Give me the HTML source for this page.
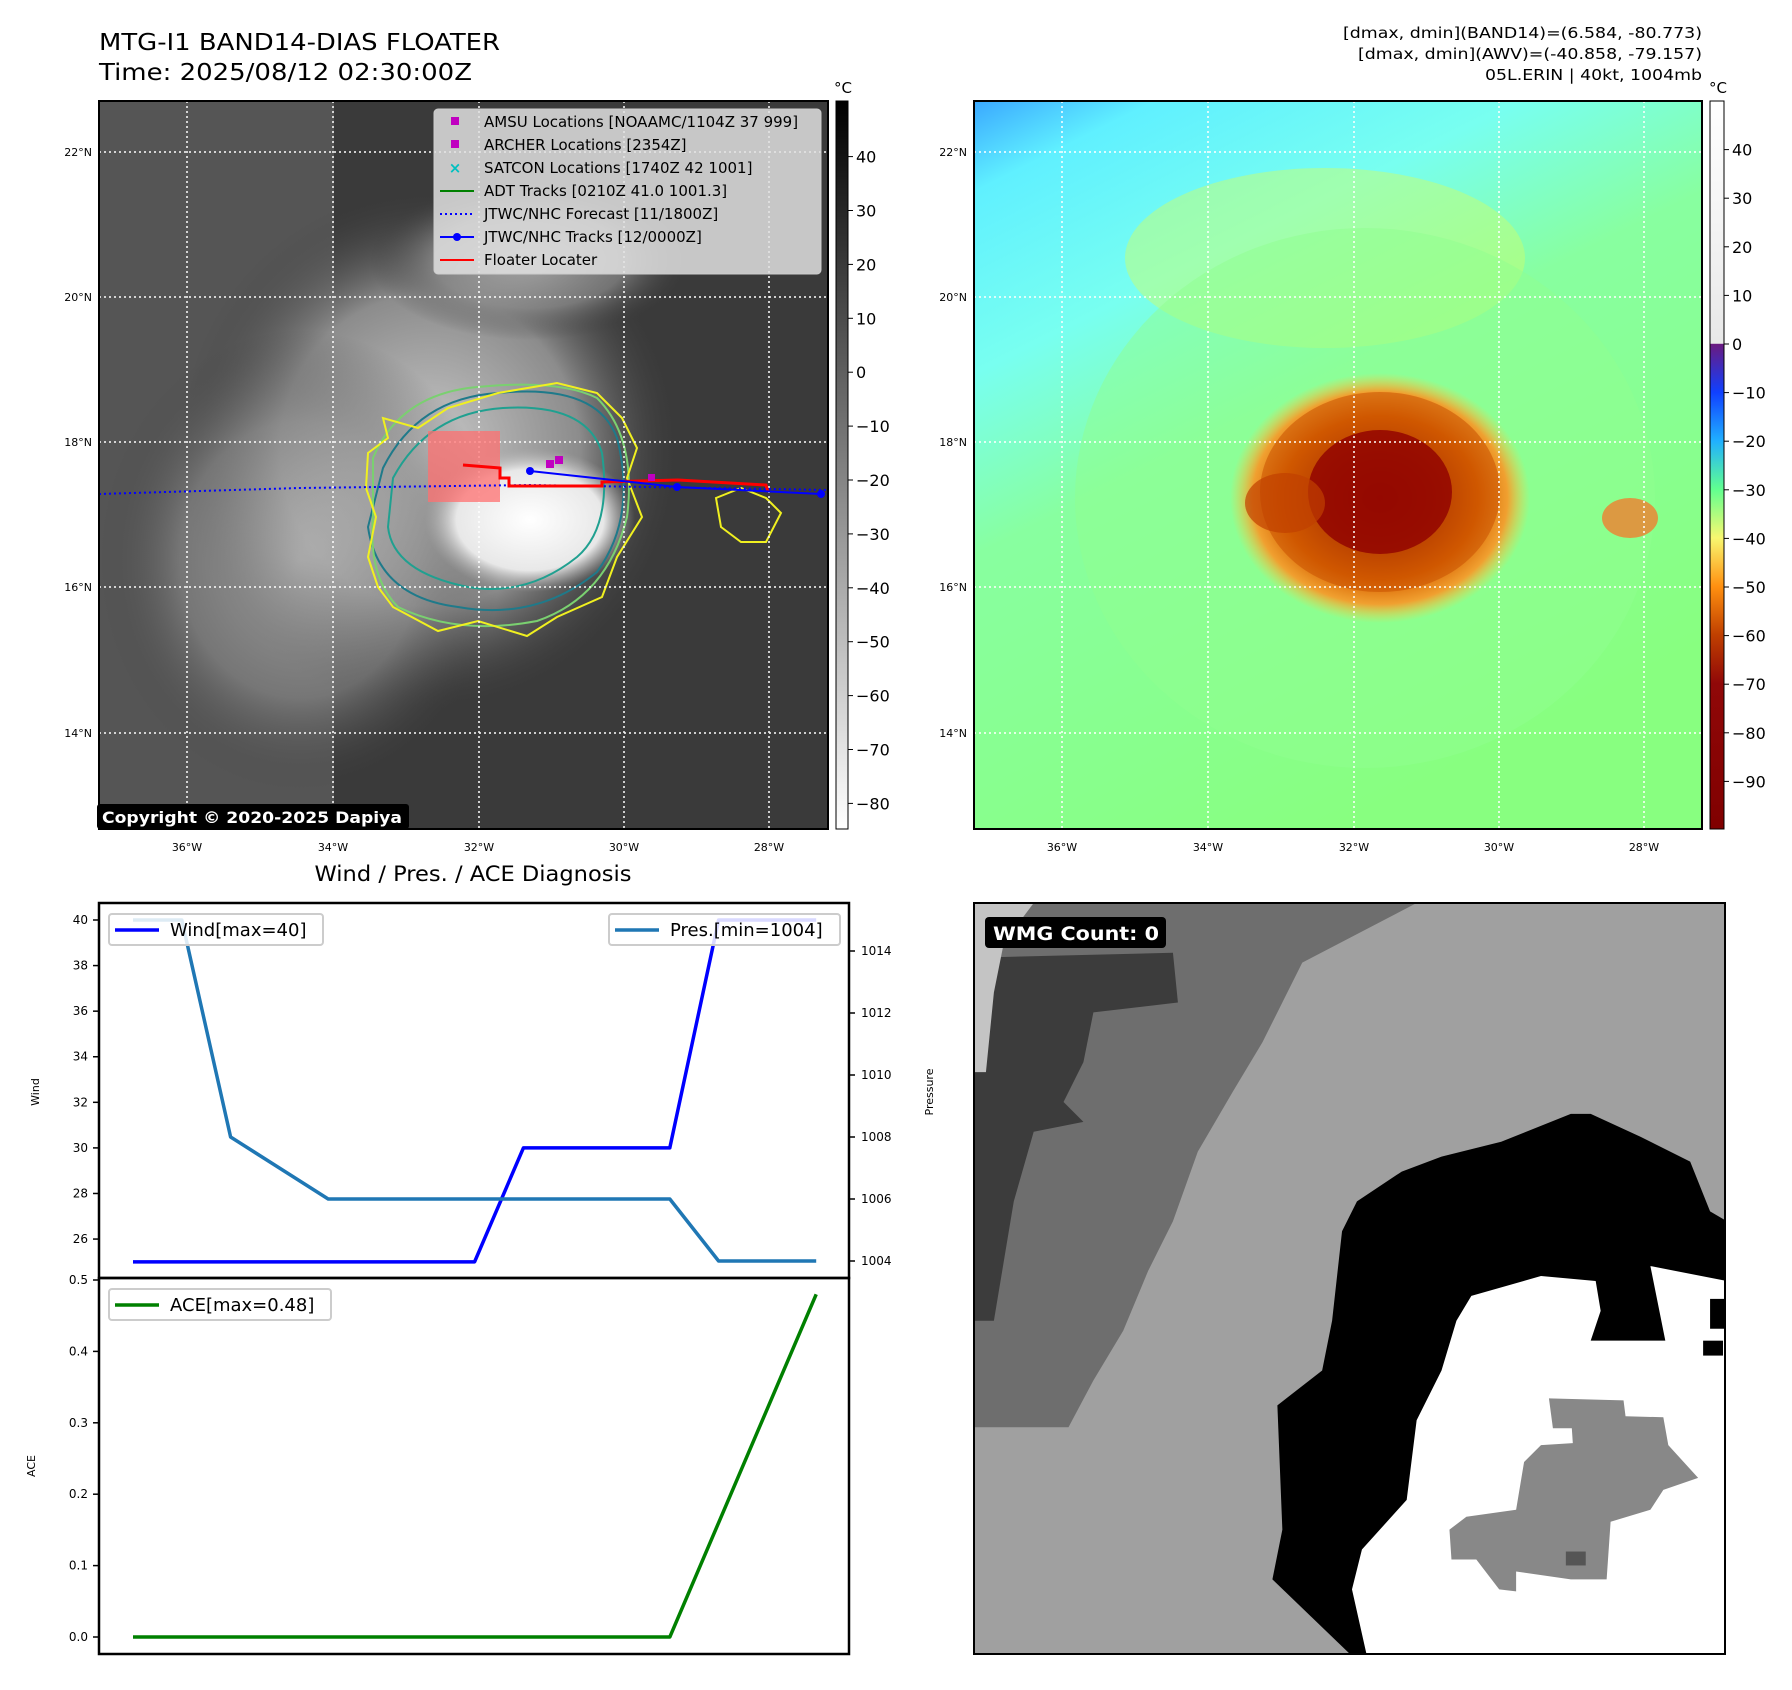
<!DOCTYPE html>
<html><head><meta charset="utf-8"><style>
html,body{margin:0;padding:0;background:#fff;}
body{width:1792px;height:1690px;position:relative;overflow:hidden;font-family:"Liberation Sans","DejaVu Sans",sans-serif;}
svg{position:absolute;left:0;top:0;}
</style></head><body>
<svg id="fig" width="1792" height="1690" viewBox="0 0 1792 1690" xmlns="http://www.w3.org/2000/svg" font-family="DejaVu Sans, Liberation Sans, sans-serif">
<defs>
<radialGradient id="cloud" cx="0.5" cy="0.5" r="0.5"><stop offset="0" stop-color="#c8c8c8"/><stop offset="0.6" stop-color="#8c8c8c"/><stop offset="1" stop-color="#3c3c3c" stop-opacity="0"/></radialGradient>
<radialGradient id="core" cx="0.5" cy="0.5" r="0.5"><stop offset="0" stop-color="#ffffff"/><stop offset="0.7" stop-color="#e8e8e8"/><stop offset="1" stop-color="#b0b0b0" stop-opacity="0"/></radialGradient>
<linearGradient id="bgR" x1="0" y1="0" x2="0.5" y2="1"><stop offset="0" stop-color="#3aa8ff"/><stop offset="0.1" stop-color="#60f0ff"/><stop offset="0.3" stop-color="#78fff0"/><stop offset="0.5" stop-color="#88ffa0"/><stop offset="1" stop-color="#88ff80"/></linearGradient>
<radialGradient id="storm" cx="0.5" cy="0.5" r="0.5"><stop offset="0" stop-color="#800000"/><stop offset="0.35" stop-color="#a02800"/><stop offset="0.65" stop-color="#d86000"/><stop offset="0.85" stop-color="#f0a030"/><stop offset="1" stop-color="#f8d040" stop-opacity="0"/></radialGradient>
<linearGradient id="cb1" x1="0" y1="0" x2="0" y2="1"><stop offset="0" stop-color="#000"/><stop offset="1" stop-color="#fff"/></linearGradient>
<linearGradient id="cb2" x1="0" y1="0" x2="0" y2="1">
<stop offset="0" stop-color="#ffffff"/><stop offset="0.333" stop-color="#e8e8e8"/><stop offset="0.334" stop-color="#6a1a80"/><stop offset="0.4" stop-color="#1040ff"/><stop offset="0.467" stop-color="#20b0ff"/><stop offset="0.533" stop-color="#60ff90"/><stop offset="0.6" stop-color="#f8f870"/><stop offset="0.667" stop-color="#ff9010"/><stop offset="0.733" stop-color="#c04000"/><stop offset="0.8" stop-color="#900808"/><stop offset="1" stop-color="#800000"/></linearGradient>
<clipPath id="clipL"><rect x="99" y="101" width="729" height="728"/></clipPath>
<clipPath id="clipR"><rect x="974" y="101" width="728" height="728"/></clipPath>
<clipPath id="clipW"><rect x="974" y="903" width="751" height="751"/></clipPath>
</defs>

<text x="99" y="50" font-size="23" textLength="401" lengthAdjust="spacingAndGlyphs">MTG-I1 BAND14-DIAS FLOATER</text>
<text x="99" y="80" font-size="23" textLength="373" lengthAdjust="spacingAndGlyphs">Time: 2025/08/12 02:30:00Z</text>
<g font-size="15" text-anchor="end">
<text x="1702" y="38" textLength="359" lengthAdjust="spacingAndGlyphs">[dmax, dmin](BAND14)=(6.584, -80.773)</text>
<text x="1702" y="59" textLength="344" lengthAdjust="spacingAndGlyphs">[dmax, dmin](AWV)=(-40.858, -79.157)</text>
<text x="1702" y="80" textLength="217" lengthAdjust="spacingAndGlyphs">05L.ERIN | 40kt, 1004mb</text>
</g>

<!-- left IR map -->
<g clip-path="url(#clipL)">
<rect x="99" y="101" width="729" height="728" fill="#3a3a3a"/>
<rect x="99" y="101" width="235" height="728" fill="#555"/>
<ellipse cx="430" cy="450" rx="250" ry="260" fill="url(#cloud)"/>
<ellipse cx="300" cy="560" rx="200" ry="230" fill="url(#cloud)" opacity="0.6"/>
<ellipse cx="530" cy="260" rx="160" ry="80" fill="url(#cloud)" opacity="0.7"/>
<ellipse cx="530" cy="520" rx="105" ry="72" fill="url(#core)"/>
<path d="M383,468 Q418,398 498,393 Q597,383 617,438 Q637,517 597,572 Q537,621 458,607 Q378,597 368,527 Z" fill="none" stroke="#1f7a8a" stroke-width="2"/>
<path d="M393,478 Q428,413 503,408 Q587,403 602,453 Q612,527 577,557 Q527,597 468,587 Q393,572 388,527 Z" fill="none" stroke="#20a090" stroke-width="2"/>
<path d="M373,458 Q398,398 468,388 Q557,378 597,398 Q637,438 627,517 Q607,597 537,621 Q458,636 398,607 Q368,577 373,517 Z" fill="none" stroke="#7ad070" stroke-width="2"/>
<path d="M368,453 L388,438 L383,418 L418,428 L448,408 L498,393 L557,383 L597,393 L622,418 L637,448 L627,478 L642,517 L617,557 L602,597 L557,617 L527,636 L478,621 L438,631 L393,607 L378,587 L368,557 L376,517 L366,488 Z" fill="none" stroke="#f0f020" stroke-width="2"/>
<path d="M716,498 L741,488 L766,498 L781,513 L766,542 L741,542 L721,527 Z" fill="none" stroke="#f0f020" stroke-width="2"/>
<g stroke="#fff" stroke-width="1.5" stroke-dasharray="2,3">
<line x1="187" y1="101" x2="187" y2="829"/><line x1="333" y1="101" x2="333" y2="829"/><line x1="479" y1="101" x2="479" y2="829"/><line x1="624" y1="101" x2="624" y2="829"/><line x1="769" y1="101" x2="769" y2="829"/>
<line x1="99" y1="152" x2="828" y2="152"/><line x1="99" y1="297" x2="828" y2="297"/><line x1="99" y1="442" x2="828" y2="442"/><line x1="99" y1="587" x2="828" y2="587"/><line x1="99" y1="733" x2="828" y2="733"/>
</g>
<rect x="428" y="431" width="72" height="71" fill="#ff7070" opacity="0.75"/>
<polyline points="99,494 300,488 530,485 828,490" fill="none" stroke="#0000ff" stroke-width="2" stroke-dasharray="2,3"/>
<polyline points="463,465 500,468 500,478 509,478 509,486 602,486 602,482 678,480 766,485 768,492" fill="none" stroke="#ff0000" stroke-width="3"/>
<polyline points="530,471 677,487 821,494" fill="none" stroke="#0000ff" stroke-width="2"/>
<circle cx="530" cy="471" r="4" fill="#00f"/><circle cx="677" cy="487" r="4" fill="#00f"/><circle cx="821" cy="494" r="4" fill="#00f"/>
<rect x="546" y="460" width="8" height="8" fill="#c000c0"/><rect x="555" y="456" width="8" height="8" fill="#c000c0"/><rect x="648" y="474" width="7" height="7" fill="#c000c0"/>
</g>
<rect x="99" y="101" width="729" height="728" fill="none" stroke="#000" stroke-width="2"/>
<g>
<rect x="434" y="109" width="387" height="165" rx="4" fill="#e0e0e0" fill-opacity="0.85" stroke="#ccc"/>
<g font-size="15">
<rect x="451" y="117" width="8" height="8" fill="#c000c0"/><text x="484" y="127">AMSU Locations [NOAAMC/1104Z 37 999]</text>
<rect x="451" y="140" width="8" height="8" fill="#c000c0"/><text x="484" y="150">ARCHER Locations [2354Z]</text>
<text x="455" y="173" fill="#00c0c0" text-anchor="middle" font-weight="bold">×</text><text x="484" y="173">SATCON Locations [1740Z 42 1001]</text>
<line x1="440" y1="191" x2="474" y2="191" stroke="#008000" stroke-width="2"/><text x="484" y="196">ADT Tracks [0210Z 41.0 1001.3]</text>
<line x1="440" y1="214" x2="474" y2="214" stroke="#00f" stroke-width="2" stroke-dasharray="2,3"/><text x="484" y="219">JTWC/NHC Forecast [11/1800Z]</text>
<line x1="440" y1="237" x2="474" y2="237" stroke="#00f" stroke-width="2"/><circle cx="457" cy="237" r="4" fill="#00f"/><text x="484" y="242">JTWC/NHC Tracks [12/0000Z]</text>
<line x1="440" y1="260" x2="474" y2="260" stroke="#f00" stroke-width="2"/><text x="484" y="265">Floater Locater</text>
</g></g>
<rect x="97" y="804" width="312" height="25" rx="3" fill="#000"/>
<text x="102" y="823" font-size="16" font-weight="bold" fill="#fff" textLength="300" lengthAdjust="spacingAndGlyphs">Copyright © 2020-2025 Dapiya</text>

<g font-size="11" text-anchor="end">
<text x="92" y="156">22°N</text><text x="92" y="301">20°N</text><text x="92" y="446">18°N</text><text x="92" y="591">16°N</text><text x="92" y="737">14°N</text></g>
<g font-size="11" text-anchor="middle">
<text x="187" y="851">36°W</text><text x="333" y="851">34°W</text><text x="479" y="851">32°W</text><text x="624" y="851">30°W</text><text x="769" y="851">28°W</text></g>

<rect x="836" y="101" width="12" height="728" fill="url(#cb1)" stroke="#000" stroke-width="1"/>
<text x="843" y="93" font-size="15" text-anchor="middle">°C</text>
<g id="cb1ticks" font-size="16"></g>

<!-- right WV map -->
<g clip-path="url(#clipR)">
<rect x="974" y="101" width="728" height="728" fill="url(#bgR)"/>
<ellipse cx="1325" cy="258" rx="200" ry="90" fill="#c8ff70" opacity="0.5"/>
<ellipse cx="1365" cy="498" rx="290" ry="270" fill="#90ff90" opacity="0.5"/>
<ellipse cx="1380" cy="498" rx="150" ry="125" fill="url(#storm)"/>
<ellipse cx="1380" cy="492" rx="120" ry="100" fill="#c85000" opacity="0.55"/>
<ellipse cx="1380" cy="492" rx="72" ry="62" fill="#900000" opacity="0.8"/>
<ellipse cx="1285" cy="503" rx="40" ry="30" fill="#c04000" opacity="0.7"/>
<ellipse cx="1630" cy="518" rx="28" ry="20" fill="#f08030" opacity="0.8"/>
<g stroke="#fff" stroke-width="1.5" stroke-dasharray="2,3">
<line x1="1062" y1="101" x2="1062" y2="829"/><line x1="1208" y1="101" x2="1208" y2="829"/><line x1="1354" y1="101" x2="1354" y2="829"/><line x1="1499" y1="101" x2="1499" y2="829"/><line x1="1644" y1="101" x2="1644" y2="829"/>
<line x1="974" y1="152" x2="1702" y2="152"/><line x1="974" y1="297" x2="1702" y2="297"/><line x1="974" y1="442" x2="1702" y2="442"/><line x1="974" y1="587" x2="1702" y2="587"/><line x1="974" y1="733" x2="1702" y2="733"/>
</g></g>
<rect x="974" y="101" width="728" height="728" fill="none" stroke="#000" stroke-width="2"/>
<g font-size="11" text-anchor="end">
<text x="967" y="156">22°N</text><text x="967" y="301">20°N</text><text x="967" y="446">18°N</text><text x="967" y="591">16°N</text><text x="967" y="737">14°N</text></g>
<g font-size="11" text-anchor="middle">
<text x="1062" y="851">36°W</text><text x="1208" y="851">34°W</text><text x="1354" y="851">32°W</text><text x="1499" y="851">30°W</text><text x="1644" y="851">28°W</text></g>
<rect x="1710" y="101" width="14" height="728" fill="url(#cb2)" stroke="#000" stroke-width="1"/>
<text x="1718" y="93" font-size="15" text-anchor="middle">°C</text>
<g id="cb2ticks" font-size="16"></g>

<!-- WMG panel -->
<g clip-path="url(#clipW)">
<g transform="translate(974,903) scale(0.9947)">
<rect x="0" y="0" width="755" height="755" fill="#a0a0a0"/>
<polygon points="0,0 445,0 330,60 290,140 260,190 225,250 200,320 175,370 150,430 120,480 95,527 0,527" fill="#6e6e6e"/>
<polygon points="0,55 200,50 205,100 120,110 110,160 90,200 110,220 60,230 40,300 20,420 0,420" fill="#3c3c3c"/>
<polygon points="0,0 60,0 30,40 20,90 12,170 0,170" fill="#c4c4c4"/>
<polygon points="380,757 300,680 310,630 305,505 350,470 360,420 370,330 385,300 430,270 470,255 530,240 600,212 620,212 670,235 720,260 740,310 757,320 757,757" fill="#000"/>
<polygon points="395,757 380,690 390,650 435,600 445,520 470,470 485,420 500,395 570,375 625,380 630,410 620,440 695,440 680,365 757,380 757,757" fill="#fff"/>
<rect x="740" y="398" width="17" height="30" fill="#000"/><rect x="733" y="440" width="20" height="15" fill="#000"/>
<polygon points="578,498 653,500 655,516 693,517 698,545 728,578 693,590 680,610 640,622 636,680 600,680 545,672 545,692 528,690 505,660 480,660 478,630 495,617 545,610 553,562 570,545 602,543 601,528 582,528" fill="#888"/>
<rect x="595" y="652" width="20" height="14" fill="#555"/>
</g></g>
<rect x="974" y="903" width="751" height="751" fill="none" stroke="#000" stroke-width="2"/>
<rect x="985" y="917" width="181" height="31" rx="4" fill="#000"/>
<text x="993" y="940" font-size="19" font-weight="bold" fill="#fff" textLength="166" lengthAdjust="spacingAndGlyphs">WMG Count: 0</text>

<text x="473" y="881" font-size="21" text-anchor="middle" textLength="317" lengthAdjust="spacingAndGlyphs">Wind / Pres. / ACE Diagnosis</text>
<g id="chart"></g>
</svg>
<script>
const NS='http://www.w3.org/2000/svg';
const windTicks=[26,28,30,32,34,36,38,40];
const presTicks=[1004,1006,1008,1010,1012,1014];
const aceTicks=[0.0,0.1,0.2,0.3,0.4,0.5];
const windVals=[25,25,25,25,25,25,25,25,30,30,30,30,40,40,40];
const presVals=[1015,1015,1008,1007,1006,1006,1006,1006,1006,1006,1006,1006,1004,1004,1004];
const aceVals=[0,0,0,0,0,0,0,0,0,0,0,0,0.16,0.32,0.48];
const cb1Labels=[40,30,20,10,0,-10,-20,-30,-40,-50,-60,-70,-80];
const cb2Labels=[40,30,20,10,0,-10,-20,-30,-40,-50,-60,-70,-80,-90];

function mk(tag,attrs,parent){const e=document.createElementNS(NS,tag);for(const k in attrs)e.setAttribute(k,attrs[k]);parent.appendChild(e);return e;}
const X=i=>133+i*48.8;
const YW=v=>920+(40-v)*22.79;
const YP=p=>1261-(p-1004)*31;
const YA=a=>1637-a*714;
const g=document.getElementById('chart');

const c1=document.getElementById('cb1ticks');
cb1Labels.forEach(v=>{const y=156.6+(40-v)*5.39;
 mk('line',{x1:848,y1:y,x2:853,y2:y,stroke:'#000'},c1);
 const t=mk('text',{x:856,y:y+6},c1);t.textContent=(v<0?'\u2212'+(-v):v);
 
 });
const c2=document.getElementById('cb2ticks');
cb2Labels.forEach(v=>{const y=344-v*4.86;
 mk('line',{x1:1724,y1:y,x2:1729,y2:y,stroke:'#000'},c2);
 const t=mk('text',{x:1732,y:y+6},c2);t.textContent=(v<0?'\u2212'+(-v):v);
 
 });

const fs={'font-size':12};
windTicks.forEach(v=>{const y=YW(v);mk('line',{x1:93,y1:y,x2:99,y2:y,stroke:'#000','stroke-width':1.5},g);
 const t=mk('text',Object.assign({x:88,y:y+4,'text-anchor':'end'},fs),g);t.textContent=v;
 
 });
presTicks.forEach(v=>{const y=YP(v);mk('line',{x1:849,y1:y,x2:855,y2:y,stroke:'#000','stroke-width':1.5},g);
 const t=mk('text',Object.assign({x:861,y:y+4},fs),g);t.textContent=v;
 
 });
aceTicks.forEach(v=>{const y=YA(v);mk('line',{x1:93,y1:y,x2:99,y2:y,stroke:'#000','stroke-width':1.5},g);
 const t=mk('text',Object.assign({x:88,y:y+4,'text-anchor':'end'},fs),g);t.textContent=v.toFixed(1);
 
 });

const pl=(vals,f,color,name)=>{const p=mk('polyline',{points:vals.map((v,i)=>X(i)+','+f(v)).join(' '),fill:'none',stroke:color,'stroke-width':3.5,'stroke-linejoin':'round'},g);
 
 };
pl(windVals,YW,'#0000ff','wind-line');
pl(presVals,YP,'#1f77b4','pressure-line');
pl(aceVals,YA,'#008000','ace-line');

mk('rect',{x:99,y:903,width:750,height:375,fill:'none',stroke:'#000','stroke-width':2.5},g);
mk('rect',{x:99,y:1278,width:750,height:376,fill:'none',stroke:'#000','stroke-width':2.5},g);

const lab=(x,y,txt,name)=>{const t=mk('text',{x:x,y:y,'font-size':11,'text-anchor':'middle',transform:`rotate(-90 ${x} ${y})`},g);t.textContent=txt;
 
 };
lab(39,1092,'Wind','wind-axis-title');
lab(933,1092,'Pressure','pressure-axis-title');
lab(35,1466,'ACE','ace-axis-title');

const leg=(x,y,w,color,txt,name)=>{const r=mk('rect',{x:x,y:y,width:w,height:31,rx:3,fill:'#fff','fill-opacity':0.85,stroke:'#ccc','stroke-width':2},g);
 
 
 mk('line',{x1:x+6,y1:y+16,x2:x+50,y2:y+16,stroke:color,'stroke-width':3.5},g);
 const t=mk('text',{x:x+61,y:y+22,'font-size':18},g);t.textContent=txt;};
leg(109,914,214,'#0000ff','Wind[max=40]','wind-legend');
leg(609,914,231,'#1f77b4','Pres.[min=1004]','pressure-legend');
leg(109,1289,222,'#008000','ACE[max=0.48]','ace-legend');
</script>
</body></html>
